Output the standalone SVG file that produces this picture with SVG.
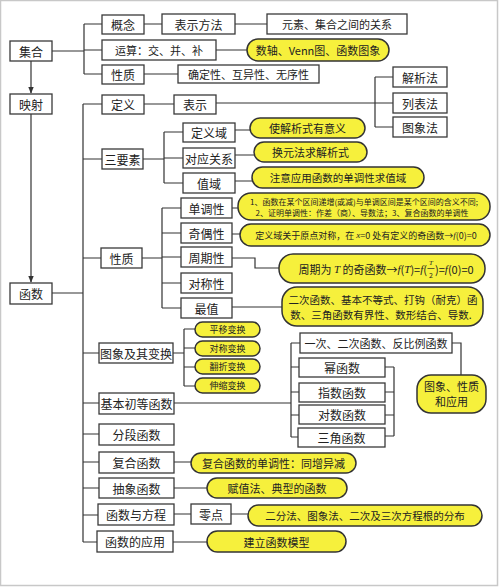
<svg xmlns="http://www.w3.org/2000/svg" width="500" height="587" viewBox="0 0 500 587">
<defs>
<style>
.box{fill:#fff;stroke:#3a3a3a;stroke-width:1.3}
.pill{fill:#f6f03c;stroke:#333;stroke-width:1.5}
.ln{stroke:#333;stroke-width:1.2;fill:none}
text{font-family:"Noto Sans CJK SC","Noto Sans",sans-serif;fill:#222;text-anchor:middle;dominant-baseline:central}
.t12{font-size:12px}
.t11{font-size:11px}
.t105{font-size:10.5px}
.t9{font-size:9px}
.t8{font-size:8px}
.t7{font-size:7px}
.m{font-family:"Liberation Serif",serif;font-style:italic}
</style>
<marker id="ar" viewBox="0 0 10 10" refX="9" refY="5" markerWidth="6" markerHeight="6" orient="auto"><path d="M0,1 L10,5 L0,9 z" fill="#333"/></marker>
</defs>
<rect x="0.5" y="0.5" width="497" height="585" fill="#fff" stroke="#c8c8c8" stroke-width="1.5"/>
<g id="connectors">
<path class="ln" d="M52,51H84M84,24V74M84,24H102M84,50H102M84,74H102"/>
<path class="ln" d="M144,24H162M235,24H267M216,50H247M144,74H178"/>
<path class="ln" d="M31,61V93" marker-end="url(#ar)"/>
<path class="ln" d="M31,114V282" marker-end="url(#ar)"/>
<path class="ln" d="M52,293H83M83,104V542M83,104H102M83,159H102M83,258H101M83,353H99M83,403H99M83,434H99M83,462H99M83,488H99M83,515H98M83,542H97"/>
<path class="ln" d="M144,104H174M216,103H393M375,77V127M375,77H393M375,127H393"/>
<path class="ln" d="M143,159H164M164,132V183M164,132H183M164,158H183M164,183H183"/>
<path class="ln" d="M235,130H251M235,155H255M235,181H253"/>
<path class="ln" d="M142,258H162M162,208V308M162,208H181M162,233H181M162,257H181M162,283H181M162,308H181"/>
<path class="ln" d="M232,208H239M232,234H241M232,258H255V268H280M232,307H283"/>
<path class="ln" d="M173,353H184M184,329V386M184,329H195M184,348H195M184,367H195M184,386H195"/>
<path class="ln" d="M174,403H291M291,343V437M291,343H300M291,367H299M291,392H299M291,415H299M291,437H298"/>
<path class="ln" d="M385,367H394M385,392H394M385,415H394M385,436H394M394,367V436"/>
<path class="ln" d="M452,343H461V375"/>
<path class="ln" d="M174,462H191M174,488H207M174,514H191M231,514H248M173,542H207"/>
</g>
<g id="n-jihe"><rect class="box" x="10" y="41" width="42" height="20"/><text class="t12" x="31" y="51">集合</text></g>
<g id="n-yingshe"><rect class="box" x="10" y="94" width="42" height="20"/><text class="t12" x="31" y="104">映射</text></g>
<g id="n-hanshu"><rect class="box" x="10" y="283" width="42" height="21"/><text class="t12" x="31" y="293.5">函数</text></g>
<g id="n-gainian"><rect class="box" x="102" y="15" width="42" height="19"/><text class="t12" x="123" y="24.5">概念</text></g>
<g id="n-biaoshifangfa"><rect class="box" x="162" y="14" width="73" height="20"/><text class="t12" x="198.5" y="24">表示方法</text></g>
<g id="n-yuansu"><rect class="box" x="267" y="14" width="140" height="20"/><text class="t11" x="337" y="24">元素、集合之间的关系</text></g>
<g id="n-yunsuan"><rect class="box" x="102" y="40" width="114" height="20"/><text class="t11" x="159" y="50">运算：交、并、补</text></g>
<g id="n-shuzhou"><rect class="pill" x="247" y="39" width="142" height="22" rx="11"/><text class="t11" x="318" y="50">数轴、Venn图、函数图象</text></g>
<g id="n-xingzhi1"><rect class="box" x="102" y="65" width="42" height="19"/><text class="t12" x="123" y="74.5">性质</text></g>
<g id="n-queding"><rect class="box" x="178" y="65" width="141" height="18"/><text class="t11" x="248.5" y="74">确定性、互异性、无序性</text></g>
<g id="n-dingyi"><rect class="box" x="102" y="95" width="42" height="19"/><text class="t12" x="123" y="104.5">定义</text></g>
<g id="n-biaoshi"><rect class="box" x="174" y="95" width="42" height="19"/><text class="t12" x="195" y="104.5">表示</text></g>
<g id="n-jiexi"><rect class="box" x="393" y="67" width="54" height="20"/><text class="t12" x="420" y="77">解析法</text></g>
<g id="n-liebiao"><rect class="box" x="393" y="93" width="54" height="20"/><text class="t12" x="420" y="103">列表法</text></g>
<g id="n-tuxiang"><rect class="box" x="393" y="117" width="54" height="20"/><text class="t12" x="420" y="127">图象法</text></g>
<g id="n-sanyaosu"><rect class="box" x="102" y="149" width="41" height="20"/><text class="t12" x="122.5" y="159">三要素</text></g>
<g id="n-dingyiyu"><rect class="box" x="183" y="123" width="52" height="19"/><text class="t12" x="209" y="132.5">定义域</text></g>
<g id="n-duiying"><rect class="box" x="183" y="148" width="52" height="20"/><text class="t12" x="209" y="158">对应关系</text></g>
<g id="n-zhiyu"><rect class="box" x="183" y="173" width="52" height="20"/><text class="t12" x="209" y="183">值域</text></g>
<g id="n-p-dingyiyu"><rect class="pill" x="250" y="118" width="115" height="20" rx="10"/><text class="t11" x="307.5" y="128">使解析式有意义</text></g>
<g id="n-p-duiying"><rect class="pill" x="254" y="142" width="113" height="20" rx="10"/><text class="t11" x="310.5" y="152">换元法求解析式</text></g>
<g id="n-p-zhiyu"><rect class="pill" x="252" y="167" width="172" height="21" rx="10.5"/><text class="t105" x="338" y="177.5">注意应用函数的单调性求值域</text></g>
<g id="n-xingzhi2"><rect class="box" x="101" y="248" width="41" height="20"/><text class="t12" x="121.5" y="258">性质</text></g>
<g id="n-dandiao"><rect class="box" x="181" y="198" width="51" height="20"/><text class="t12" x="206.5" y="208">单调性</text></g>
<g id="n-jiou"><rect class="box" x="181" y="223" width="51" height="20"/><text class="t12" x="206.5" y="233">奇偶性</text></g>
<g id="n-zhouqi"><rect class="box" x="181" y="247" width="51" height="20"/><text class="t12" x="206.5" y="257">周期性</text></g>
<g id="n-duicheng"><rect class="box" x="181" y="273" width="51" height="20"/><text class="t12" x="206.5" y="283">对称性</text></g>
<g id="n-zuizhi"><rect class="box" x="181" y="298" width="51" height="20"/><text class="t12" x="206.5" y="308">最值</text></g>
<g id="n-p-dandiao"><rect class="pill" x="238" y="193" width="252" height="27" rx="13"/><text class="t8" x="364" y="201.5">1、函数在某个区间递增(或减)与单调区间是某个区间的含义不同;</text><text class="t8" x="362" y="212.5">2、证明单调性：作差（商）、导数法；3、复合函数的单调性</text></g>
<g id="n-p-jiou"><rect class="pill" x="240" y="224" width="250" height="22" rx="11"/><text class="t9" x="366" y="235">定义域关于原点对称，在 <tspan class="m">x</tspan>=0 处有定义的奇函数→<tspan class="m">f</tspan>(0)=0</text></g>
<g id="n-p-zhouqi"><rect class="pill" x="279" y="254" width="206" height="29" rx="14"/>
<text class="t11" x="427" y="268.5" style="text-anchor:end">周期为 <tspan class="m">T</tspan> 的奇函数→<tspan class="m">f</tspan>(<tspan class="m">T</tspan>)=<tspan class="m">f</tspan>(</text>
<text class="t7 m" x="431" y="262.5">T</text>
<line x1="427.5" y1="268.5" x2="434.5" y2="268.5" stroke="#222" stroke-width="0.7"/>
<text class="t7" x="431" y="274.5">2</text>
<text class="t11" x="435" y="268.5" style="text-anchor:start">)=<tspan class="m">f</tspan>(0)=0</text></g>
<g id="n-p-zuizhi"><rect class="pill" x="282" y="287" width="201" height="39" rx="15"/><text class="t105" x="383" y="299">二次函数、基本不等式、打钩（耐克）函</text><text class="t105" x="381" y="314">数、三角函数有界性、数形结合、导数.</text></g>
<g id="n-tuxiangbianhuan"><rect class="box" x="99" y="343" width="74" height="20"/><text class="t12" x="136" y="353">图象及其变换</text></g>
<g id="n-pingyi"><rect class="pill" x="195" y="322" width="65" height="15" rx="7.5"/><text class="t9" x="227.5" y="329.5">平移变换</text></g>
<g id="n-duichengbh"><rect class="pill" x="195" y="341" width="65" height="15" rx="7.5"/><text class="t9" x="227.5" y="348.5">对称变换</text></g>
<g id="n-fanzhe"><rect class="pill" x="195" y="359" width="65" height="15" rx="7.5"/><text class="t9" x="227.5" y="366.5">翻折变换</text></g>
<g id="n-shensuo"><rect class="pill" x="195" y="378" width="65" height="15" rx="7.5"/><text class="t9" x="227.5" y="385.5">伸缩变换</text></g>
<g id="n-jiben"><rect class="box" x="99" y="393" width="75" height="21"/><text class="t12" x="136.5" y="403.5">基本初等函数</text></g>
<g id="n-yici"><rect class="box" x="300" y="333" width="152" height="20"/><text class="t11" x="376" y="343">一次、二次函数、反比例函数</text></g>
<g id="n-mi"><rect class="box" x="299" y="358" width="86" height="19"/><text class="t12" x="342" y="367.5">幂函数</text></g>
<g id="n-zhishu"><rect class="box" x="299" y="383" width="86" height="19"/><text class="t12" x="342" y="392.5">指数函数</text></g>
<g id="n-duishu"><rect class="box" x="299" y="405" width="86" height="19"/><text class="t12" x="342" y="414.5">对数函数</text></g>
<g id="n-sanjiao"><rect class="box" x="298" y="428" width="87" height="19"/><text class="t12" x="341.5" y="437.5">三角函数</text></g>
<g id="n-p-tuxiangxingzhi"><rect class="pill" x="417" y="375" width="69" height="38" rx="14"/><text class="t11" x="451.5" y="386">图象、性质</text><text class="t11" x="451.5" y="401">和应用</text></g>
<g id="n-fenduan"><rect class="box" x="99" y="424" width="75" height="21"/><text class="t12" x="136.5" y="434.5">分段函数</text></g>
<g id="n-fuhe"><rect class="box" x="99" y="452" width="75" height="21"/><text class="t12" x="136.5" y="462.5">复合函数</text></g>
<g id="n-p-fuhe"><rect class="pill" x="191" y="453" width="165" height="20" rx="10"/><text class="t11" x="273.5" y="463">复合函数的单调性：同增异减</text></g>
<g id="n-chouxiang"><rect class="box" x="99" y="478" width="75" height="20"/><text class="t12" x="136.5" y="488">抽象函数</text></g>
<g id="n-p-chouxiang"><rect class="pill" x="207" y="478" width="140" height="20" rx="10"/><text class="t11" x="277" y="488">赋值法、典型的函数</text></g>
<g id="n-fangcheng"><rect class="box" x="98" y="504" width="76" height="21"/><text class="t12" x="136" y="514.5">函数与方程</text></g>
<g id="n-lingdian"><rect class="box" x="191" y="504" width="40" height="20"/><text class="t12" x="211" y="514">零点</text></g>
<g id="n-p-lingdian"><rect class="pill" x="248" y="505" width="234" height="21" rx="10.5"/><text class="t105" x="365" y="515.5">二分法、图象法、二次及三次方程根的分布</text></g>
<g id="n-yingyong"><rect class="box" x="97" y="531" width="76" height="21"/><text class="t12" x="135" y="541.5">函数的应用</text></g>
<g id="n-p-yingyong"><rect class="pill" x="207" y="531" width="139" height="21" rx="10.5"/><text class="t11" x="276.5" y="541.5">建立函数模型</text></g>
</svg>
